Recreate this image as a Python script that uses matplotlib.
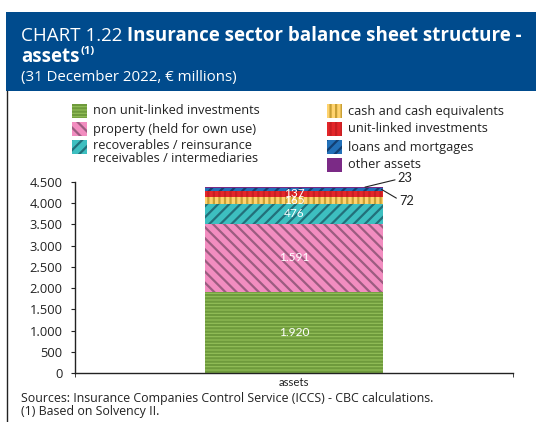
import matplotlib
matplotlib.use("Agg")
import matplotlib.pyplot as plt
from matplotlib.patches import Rectangle
from matplotlib.lines import Line2D

plt.rcParams['font.family'] = ['Open Sans', 'DejaVu Sans']
plt.rcParams['hatch.linewidth'] = 1.6
narrow = ['Lato', 'DejaVu Sans']

# ---- data ----
category = ["assets"]
series = [
    "non unit-linked investments",
    "property (held for own use)",
    "recoverables / reinsurance\nreceivables / intermediaries",
    "cash and cash equivalents",
    "unit-linked investments",
    "loans and mortgages",
    "other assets",
]
values = [1920, 1591, 476, 165, 137, 72, 23]
value_labels = ["1.920", "1.591", "476", "165", "137", "72", "23"]
yticks = [0, 500, 1000, 1500, 2000, 2500, 3000, 3500, 4000, 4500]
ytick_labels = ["0", "500", "1.000", "1.500", "2.000", "2.500", "3.000", "3.500", "4.000", "4.500"]

# ---- styles ----
faces = ["#94C05A", "#F28DC0", "#3DBFC0", "#FFD36E", "#E3262A", "#2270B8", "#7B2A86"]
hatch_cols = ["#6E9A3C", "#9C5C80", "#22707A", "#C9A035", "#C81E22", "#123F72", "#7B2A86"]
hatches = ["-----", "\\\\\\", "///", "|||", "|||", "///", None]

W, H = 536, 422
fig = plt.figure(figsize=(W / 100, H / 100), dpi=100)

def fx(px):
    return px / W

def fy(py):
    return 1 - py / H

# banner
banner_col = "#004B8D"
fig.add_artist(Rectangle((fx(6), fy(91)), 1 - fx(6), fy(12) - fy(91),
                         transform=fig.transFigure, facecolor=banner_col,
                         edgecolor="none", zorder=0))
fig.add_artist(Line2D([fx(6.5), fx(6.5)], [fy(91), 0], transform=fig.transFigure,
                      color="#222222", lw=1.0))

title_reg = fig.text(fx(21), fy(41), "CHART 1.22 ", color="white", fontsize=13.5,
                     va="baseline", ha="left")
fig.canvas.draw()
bb = title_reg.get_window_extent()
fig.text(bb.x1 / W, fy(41), "Insurance sector balance sheet structure -", color="white",
         fontsize=13.5, fontweight="bold", va="baseline", ha="left")
t2 = fig.text(fx(21), fy(62), "assets", color="white", fontsize=13.5, fontweight="bold",
              va="baseline", ha="left")
fig.canvas.draw()
bb2 = t2.get_window_extent()
fig.text(bb2.x1 / W + 0.002, fy(54), "(1)", color="white", fontsize=8, fontweight="bold",
         va="baseline", ha="left")
fig.text(fx(21), fy(80.5), "(31 December 2022, € millions)", color="white", fontsize=10.8,
         va="baseline", ha="left")

# legend (manual, two columns)
legend_pos = [(72, 104), (72, 122), (72, 140), (327, 104), (327, 122), (327, 140), (327, 158)]
for i, name in enumerate(series):
    lx, ly = legend_pos[i]
    fig.add_artist(Rectangle((fx(lx), fy(ly + 14)), fx(15), fy(ly) - fy(ly + 14),
                             transform=fig.transFigure, facecolor=faces[i],
                             edgecolor=hatch_cols[i], hatch=hatches[i], lw=0))
    if "\n" in name:
        fig.text(fx(lx + 21), fy(ly - 1), name, fontsize=9.2, color="#222222",
                 va="top", ha="left", linespacing=1.05)
    else:
        fig.text(fx(lx + 21), fy(ly + 7), name, fontsize=9.2, color="#222222",
                 va="center", ha="left")

# axes
ax = fig.add_axes([fx(75), fy(373), fx(513) - fx(75), fy(182) - fy(373)])
bottom = 0
centers = []
for i, v in enumerate(values):
    ax.bar(0, v, width=0.405, bottom=bottom, color=faces[i], edgecolor=hatch_cols[i],
           hatch=hatches[i], lw=0, zorder=2)
    centers.append(bottom + v / 2)
    bottom += v
total = bottom

for i in range(5):
    ax.text(0, centers[i], value_labels[i], ha="center", va="center", color="white",
            fontsize=8.6, family=narrow, zorder=3)

# leader-line labels for the two thin top segments
ax.annotate(value_labels[6], xy=(0.162, total - 5), xytext=(0.237, total + 211),
            fontsize=9.2, color="#222222", va="center", ha="left", family=narrow,
            arrowprops=dict(arrowstyle="-", color="#222222", lw=0.8,
                            shrinkA=0, shrinkB=0, relpos=(0, 0.4)))
ax.annotate(value_labels[5], xy=(0.2, centers[5]), xytext=(0.24, total - 331),
            fontsize=9.2, color="#222222", va="center", ha="left", family=narrow,
            arrowprops=dict(arrowstyle="-", color="#222222", lw=0.8,
                            shrinkA=0, shrinkB=0, relpos=(0, 0.6)))

ax.set_xlim(-0.5, 0.5)
ax.set_ylim(0, 4500)
ax.set_yticks(yticks)
ax.set_yticklabels(ytick_labels, fontsize=9.3, color="#222222")
ax.set_xticks([0])
ax.set_xticklabels(category, fontsize=8.2, color="#222222", family=narrow)
ax.tick_params(axis="x", length=0, pad=3)
ax.set_xticks([-0.5, 0.5], minor=True)
ax.tick_params(axis="x", which="minor", length=3, direction="out", color="#222222")
ax.tick_params(axis="y", length=3, direction="out", color="#222222", pad=6)
for s in ["top", "right"]:
    ax.spines[s].set_visible(False)
for s in ["left", "bottom"]:
    ax.spines[s].set_color("#222222")
    ax.spines[s].set_linewidth(1.0)
ax.set_facecolor("none")

# footer
fig.text(fx(21), fy(402), "Sources: Insurance Companies Control Service (ICCS) - CBC calculations.",
         fontsize=8.9, color="#222222", va="baseline", ha="left")
fig.text(fx(21), fy(415), "(1) Based on Solvency II.", fontsize=8.9, color="#222222",
         va="baseline", ha="left")

fig.savefig("out.png", dpi=100)
